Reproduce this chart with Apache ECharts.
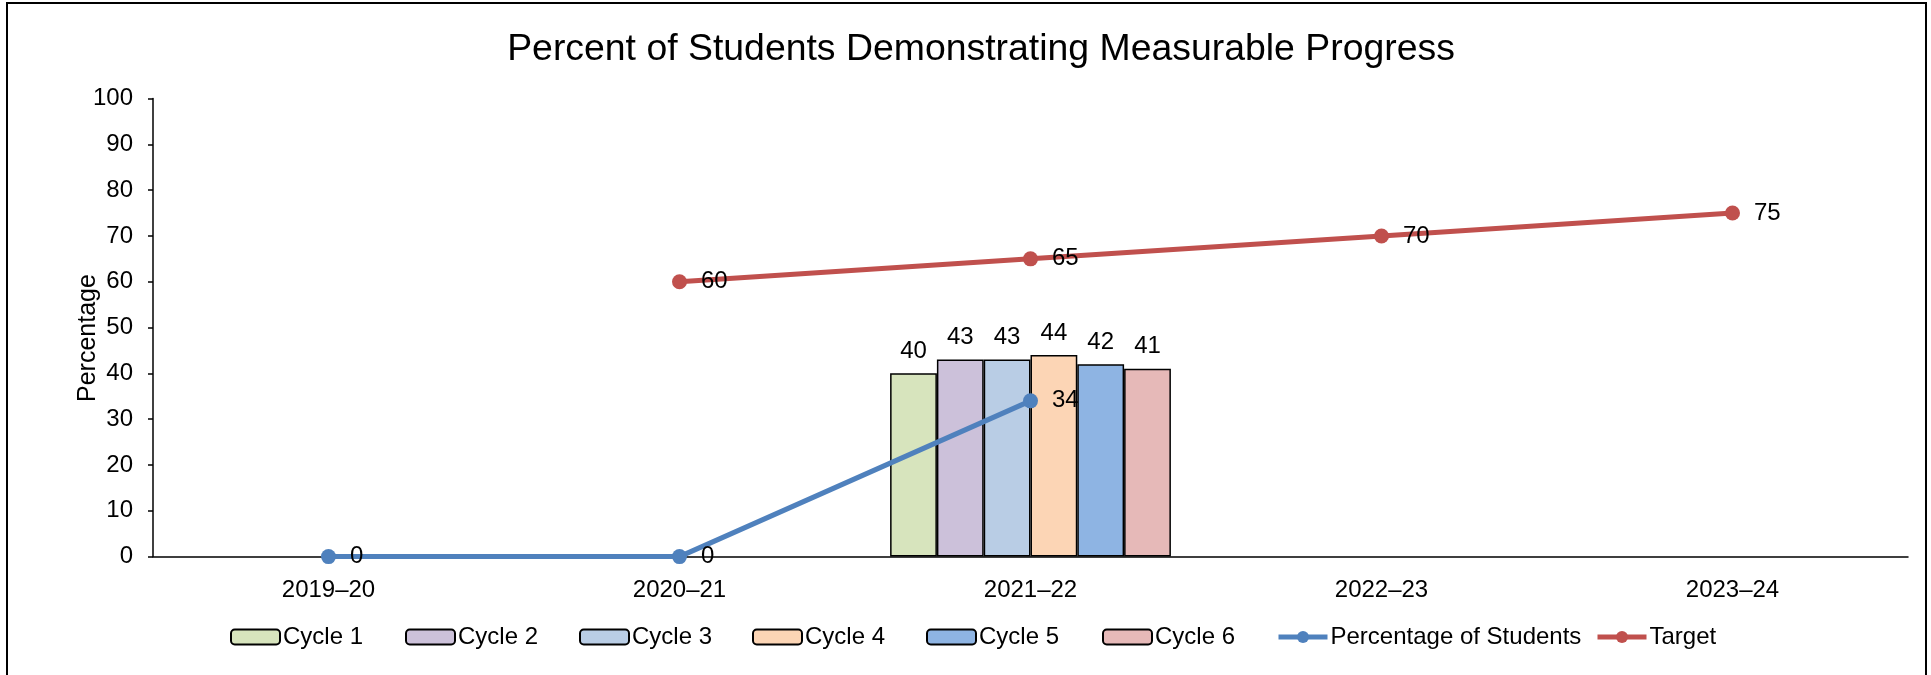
<!DOCTYPE html>
<html><head><meta charset="utf-8">
<script src="https://cdn.jsdelivr.net/npm/echarts/dist/echarts.min.js"></script>
<style>
html,body{margin:0;padding:0;background:#fff;overflow:hidden}
#c{position:absolute;left:0;top:0;width:1931px;height:675px}
#frame{position:absolute;left:6px;top:2px;width:1921px;height:720px;border:2px solid #000;box-sizing:border-box;pointer-events:none}
</style></head><body>
<div id="c"></div><div id="frame"></div>
<script>
// ---- data ----
const categories = ['2019–20', '2020–21', '2021–22', '2022–23', '2023–24'];
const cycleNames = ['Cycle 1', 'Cycle 2', 'Cycle 3', 'Cycle 4', 'Cycle 5', 'Cycle 6'];
const cycle1 = [null, null, 40, null, null];
const cycle2 = [null, null, 43, null, null];
const cycle3 = [null, null, 43, null, null];
const cycle4 = [null, null, 44, null, null];
const cycle5 = [null, null, 42, null, null];
const cycle6 = [null, null, 41, null, null];
const studentPct = [0, 0, 34, null, null];
const target = [null, 60, 65, 70, 75];
const yMin = 0, yMax = 100, yStep = 10;

// ---- styles ----
const FONT = "'Liberation Sans', Arial, sans-serif";
const LABEL_SIZE = 24;
const cycleColors = ['#d7e4bd', '#ccc1da', '#b9cde5', '#fcd5b5', '#8eb4e3', '#e6b9b8'];
const cycleData = [cycle1, cycle2, cycle3, cycle4, cycle5, cycle6];

const barSeries = cycleData.map((d, i) => ({
  name: cycleNames[i],
  type: 'bar',
  data: d,
  barGap: '0%',
  barCategoryGap: '20%',
  itemStyle: { color: cycleColors[i], borderColor: '#000', borderWidth: 1.5 },
  label: { show: true, position: 'top', distance: 10, color: '#000', fontSize: LABEL_SIZE, fontFamily: FONT },
  z: 2
}));

function lineSeries(name, data, color) {
  return {
    name, type: 'line', data,
    symbol: 'circle', symbolSize: 15,
    lineStyle: { color, width: 5 },
    itemStyle: { color },
    label: { show: true, position: 'right', distance: 14, color: '#000', fontSize: LABEL_SIZE, fontFamily: FONT },
    connectNulls: false,
    z: 5
  };
}

// legend entries placed individually (left edge of each icon)
const legendNames = [...cycleNames, 'Percentage of Students', 'Target'];
const legendLefts = [230, 405, 579, 752, 926, 1102, 1276, 1595];
const legends = legendNames.map((n, i) => ({
  data: [n],
  left: legendLefts[i], top: 625,
  padding: 0,
  itemWidth: 49, itemHeight: 15, itemGap: 0,
  lineStyle: { width: 5 },
  textStyle: { fontSize: 24, color: '#000', fontFamily: FONT, padding: [0, 0, 0, -2] }
}));

const chart = echarts.init(document.getElementById('c'));
chart.setOption({
  animation: false,
  backgroundColor: '#fff',
  textStyle: { fontFamily: FONT },
  title: {
    text: 'Percent of Students Demonstrating Measurable Progress',
    left: 976, top: 26, textAlign: 'center',
    textStyle: { fontSize: 37.4, fontWeight: 'normal', color: '#000', fontFamily: FONT }
  },
  legend: legends,
  grid: { left: 153, right: 23, top: 98.5, bottom: 118.4, containLabel: false, outerBoundsMode: 'none' },
  xAxis: {
    type: 'category', data: categories, boundaryGap: true,
    axisLine: { show: true, lineStyle: { color: '#000', width: 1.5 } },
    axisTick: { show: false },
    axisLabel: { color: '#000', fontSize: 24, margin: 22, fontFamily: FONT },
    splitLine: { show: false }
  },
  yAxis: {
    type: 'value', min: yMin, max: yMax, interval: yStep,
    name: 'Percentage', nameLocation: 'middle', nameGap: 52, nameMoveOverlap: false,
    nameTextStyle: { color: '#000', fontSize: 25, fontFamily: FONT, padding: [0, 21, 0, 0] },
    axisLine: { show: true, lineStyle: { color: '#000', width: 1.5 } },
    axisTick: { show: true, length: 5, lineStyle: { color: '#000', width: 1.5 } },
    axisLabel: { color: '#000', fontSize: 24, margin: 20, fontFamily: FONT },
    splitLine: { show: false }
  },
  series: [
    ...barSeries,
    lineSeries('Percentage of Students', studentPct, '#4f81bd'),
    lineSeries('Target', target, '#c0504d')
  ]
});
</script>
</body></html>
